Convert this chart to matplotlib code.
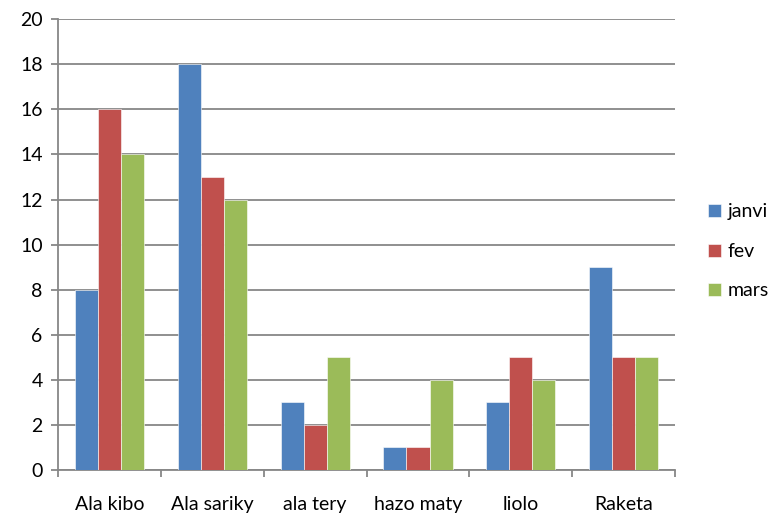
import numpy as np
import matplotlib.pyplot as plt

categories = ["Ala kibo", "Ala sariky", "ala tery", "hazo maty", "liolo", "Raketa"]
janvi = [8, 18, 3, 1, 3, 9]
fev = [16, 13, 2, 1, 5, 5]
mars = [14, 12, 5, 4, 4, 5]
series = ["janvi", "fev", "mars"]
colors = ["#4F81BD", "#C0504D", "#9BBB59"]

plt.rcParams['font.family'] = ['Lato', 'DejaVu Sans']

fig = plt.figure(figsize=(7.69, 5.17), dpi=100)
ax = fig.add_axes([0.0754, 0.0909, 0.8026, 0.872])

x = np.arange(len(categories))
w = 0.224
for k, (vals, c, name) in enumerate(zip([janvi, fev, mars], colors, series)):
    ax.bar(x + (k - 1) * w, vals, w, color=c, label=name, zorder=3,
           edgecolor="white", linewidth=0.4)

ax.set_xlim(-0.5, len(categories) - 0.5)
ax.set_ylim(0, 20)
ax.set_yticks(range(0, 21, 2))
ax.yaxis.grid(True, color="#878787", linewidth=1.3, zorder=0)
ax.set_xticks(x)
ax.set_xticklabels(categories, fontsize=14)
ax.tick_params(axis="x", length=0, pad=19)
ax.set_xticks(np.arange(-0.5, len(categories), 1), minor=True)
ax.tick_params(axis="x", which="minor", length=5, width=1.3, color="#878787", direction="out")
ax.tick_params(axis="y", length=5, width=1.3, color="#878787", labelsize=14, pad=6)

for s in ["top", "right"]:
    ax.spines[s].set_visible(False)
for s in ["left", "bottom"]:
    ax.spines[s].set_color("#878787")
    ax.spines[s].set_linewidth(1.3)

ax.legend(loc="center left", bbox_to_anchor=(1.025, 0.485), frameon=False,
          fontsize=14, handlelength=0.65, handleheight=0.65, handletextpad=0.35,
          labelspacing=1.15)

plt.savefig("out.png", dpi=100)
